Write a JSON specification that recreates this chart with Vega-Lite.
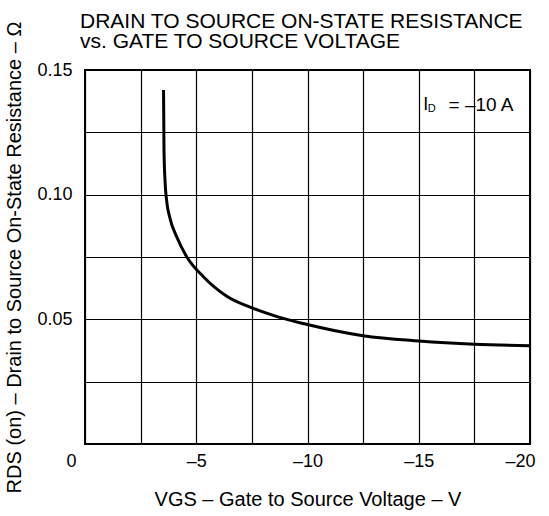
{
  "$schema": "https://vega.github.io/schema/vega-lite/v6.json",
  "autosize": {"type": "none"},
  "width": 445,
  "height": 374,
  "padding": {"left": 85, "top": 70, "right": 19, "bottom": 72},
  "background": "white",
  "config": {
    "font": "Liberation Sans",
    "view": {"stroke": "black", "strokeWidth": 2},
    "axis": {
      "gridColor": "black", "gridOpacity": 1, "gridWidth": 1.2,
      "domain": false, "ticks": false,
      "labelColor": "black", "titleColor": "black",
      "labelFont": "Liberation Sans", "titleFont": "Liberation Sans",
      "titleFontWeight": "normal"
    }
  },
  "title": {
    "text": ["DRAIN TO SOURCE ON-STATE RESISTANCE", "vs. GATE TO SOURCE VOLTAGE"],
    "anchor": "start", "frame": "group", "dx": -5, "offset": 0, "dy": 31,
    "fontSize": 21, "fontWeight": "normal", "lineHeight": 20, "color": "black", "font": "Liberation Sans"
  },
  "data": {"values": [
    {"vgs": -3.53, "rds": 0.142},
    {"vgs": -3.55, "rds": 0.118},
    {"vgs": -3.60, "rds": 0.105},
    {"vgs": -3.67, "rds": 0.0975},
    {"vgs": -3.82, "rds": 0.0905},
    {"vgs": -4.12, "rds": 0.0831},
    {"vgs": -4.57, "rds": 0.0751},
    {"vgs": -5.32, "rds": 0.0671},
    {"vgs": -6.37, "rds": 0.0593},
    {"vgs": -7.42, "rds": 0.0549},
    {"vgs": -8.67, "rds": 0.0510},
    {"vgs": -9.81, "rds": 0.0483},
    {"vgs": -12.5, "rds": 0.0434},
    {"vgs": -15.0, "rds": 0.0413},
    {"vgs": -17.5, "rds": 0.0400},
    {"vgs": -20.0, "rds": 0.0394}
  ]},
  "layer": [
    {
      "mark": {"type": "line", "color": "black", "strokeWidth": 3, "interpolate": "monotone", "clip": true},
      "encoding": {
        "x": {
          "field": "vgs", "type": "quantitative",
          "scale": {"domain": [-20, 0], "reverse": true, "nice": false, "zero": false},
          "axis": {
            "values": [0, -2.5, -5, -7.5, -10, -12.5, -15, -17.5, -20],
            "labelExpr": "datum.value % 5 == 0 ? (datum.value == 0 ? '0' : '–' + format(-datum.value, 'd')) : ''",
            "labelFontSize": 18, "labelPadding": 8, "labelFlush": false,
            "labelOffset": {"condition": [{"test": "datum.value == 0", "value": -14}, {"test": "datum.value == -20", "value": -10}], "value": 0},
            "title": "VGS – Gate to Source Voltage – V",
            "titleFontSize": 20, "titlePadding": 19
          }
        },
        "y": {
          "field": "rds", "type": "quantitative",
          "scale": {"domain": [0, 0.15], "nice": false},
          "axis": {
            "values": [0.025, 0.05, 0.075, 0.1, 0.125, 0.15],
            "labelExpr": "(round(datum.value * 1000) % 50 == 0) ? format(datum.value, '.2f') : ''",
            "labelFontSize": 18, "labelPadding": 13, "labelFlush": false,
            "title": "RDS (on) – Drain to Source On-State Resistance – Ω",
            "titleFontSize": 20, "titlePadding": 12
          }
        }
      }
    },
    {
      "data": {"values": [{}]},
      "mark": {"type": "text", "text": "I", "fontSize": 18, "align": "left", "baseline": "middle", "color": "black"},
      "encoding": {"x": {"datum": -15.2}, "y": {"datum": 0.136}}
    },
    {
      "data": {"values": [{}]},
      "mark": {"type": "text", "text": "D", "fontSize": 11, "align": "left", "baseline": "middle", "color": "black"},
      "encoding": {"x": {"datum": -15.4}, "y": {"datum": 0.1345}}
    },
    {
      "data": {"values": [{}]},
      "mark": {"type": "text", "text": "=  –10  A", "fontSize": 19, "align": "center", "baseline": "middle", "color": "black"},
      "encoding": {"x": {"datum": -17.8}, "y": {"datum": 0.136}}
    }
  ]
}
